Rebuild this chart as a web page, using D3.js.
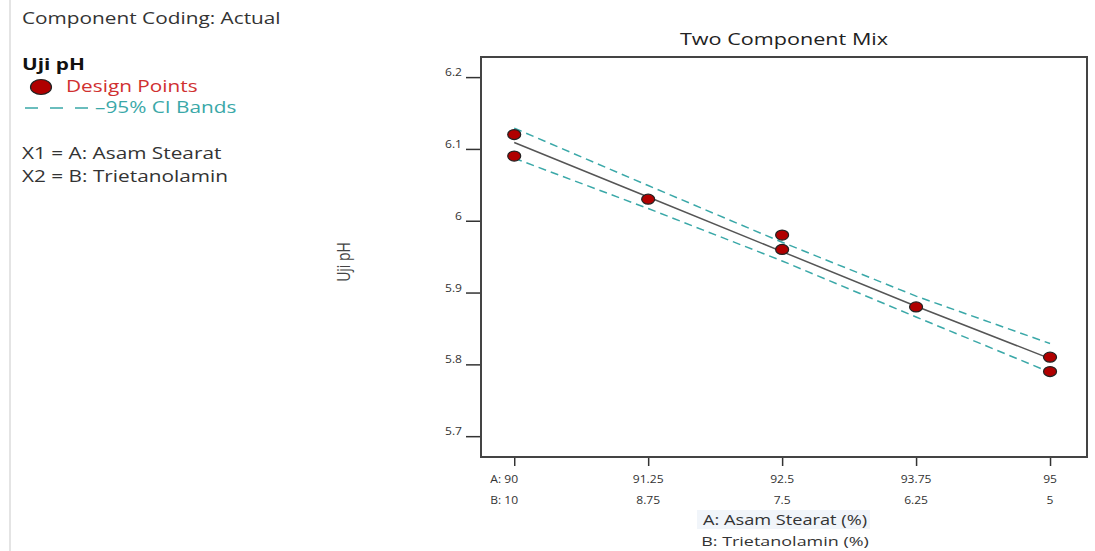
<!DOCTYPE html>
<html>
<head>
<meta charset="utf-8">
<script src="https://cdn.jsdelivr.net/npm/d3@7"></script>
<style>
  body { margin: 0; background: #fff; font-family: "Open Sans", "Noto Sans", sans-serif; }
  svg { display: block; }
</style>
</head>
<body>
<svg id="chart"></svg>
<script>
// design points (A: Asam Stearat %, Uji pH)
const pointA = [90, 90, 91.25, 92.5, 92.5, 93.75, 95, 95];
const pointPH = [6.12, 6.09, 6.03, 5.98, 5.96, 5.88, 5.81, 5.79];

// fitted line and 95% CI bands, read at the tick positions
const lineA = [90, 91.25, 92.5, 93.75, 95];
const fitPH = [6.109, 6.033, 5.957, 5.881, 5.808];
const upperPH = [6.129, 6.049, 5.970, 5.895, 5.829];
const lowerPH = [6.087, 6.017, 5.944, 5.866, 5.789];

const tickA = [90, 91.25, 92.5, 93.75, 95];
const tickB = [10, 8.75, 7.5, 6.25, 5];
const tickPH = [5.7, 5.8, 5.9, 6.0, 6.1, 6.2];

const W = 1095, H = 551;
const box = { left: 481, right: 1087, top: 57, bottom: 457 };
// the source picture is a bit wider than tall, so text is stretched sideways
const SX = 1.3, SXT = 1.15;

const svg = d3.select('#chart').attr('width', W).attr('height', H);

const x = d3.scaleLinear().domain([89.69, 95.345]).range([box.left, box.right]);
const y = d3.scaleLinear().domain([5.671, 6.228]).range([box.bottom, box.top]);

function label(g, px, py, txt, opts) {
    const o = Object.assign({ size: 16, fill: '#333', anchor: 'start', weight: 'normal', sx: SX }, opts);
    return g.append('text')
        .attr('transform', `translate(${px},${py}) scale(${o.sx},1)`)
        .attr('text-anchor', o.anchor)
        .attr('font-size', o.size)
        .attr('font-weight', o.weight)
        .attr('fill', o.fill)
        .text(txt);
}

// left info panel
svg.append('line')
    .attr('x1', 10).attr('x2', 10).attr('y1', 0).attr('y2', H)
    .attr('stroke', '#e4e4e4').attr('stroke-width', 2);

const info = svg.append('g');
label(info, 22, 24, 'Component Coding: Actual');
label(info, 22, 70, 'Uji pH', { fill: '#111', weight: 'bold' });
info.append('ellipse').attr('cx', 41).attr('cy', 87).attr('rx', 10.5).attr('ry', 7.5)
    .attr('fill', '#b00000').attr('stroke', '#222').attr('stroke-width', 1.2);
label(info, 66, 92, 'Design Points', { fill: '#d03030' });
info.append('line').attr('x1', 25).attr('x2', 88).attr('y1', 108).attr('y2', 108)
    .attr('stroke', '#3aa8a8').attr('stroke-width', 1.5).attr('stroke-dasharray', '13,12');
label(info, 95, 113, '\u201395% CI Bands', { fill: '#3aa8a8' });
label(info, 22, 159, 'X1 = A: Asam Stearat');
label(info, 22, 182, 'X2 = B: Trietanolamin');

// title
label(svg, (box.left + box.right) / 2, 45, 'Two Component Mix', { anchor: 'middle', fill: '#222', sx: 1.35 });

// y axis
const yAxis = svg.append('g')
    .attr('transform', `translate(${box.left},0)`)
    .call(d3.axisLeft(y).tickValues(tickPH).tickSize(15).tickFormat(() => ''));
yAxis.select('.domain').remove();
yAxis.selectAll('.tick line').attr('stroke', '#333').attr('stroke-width', 1.5);
const yLabels = svg.append('g');
tickPH.forEach(v => {
    label(yLabels, box.left - 19, y(v) - 1, v === 6 ? '6' : d3.format('.1f')(v),
        { size: 10.5, anchor: 'end', sx: SXT });
});

svg.append('text')
    .attr('transform', `translate(350,262) scale(${SX},1) rotate(-90)`)
    .attr('text-anchor', 'middle').attr('font-size', 14).attr('fill', '#444')
    .text('Uji pH');

// x axis, two rows of labels
const xAxis = svg.append('g')
    .attr('transform', `translate(0,${box.bottom})`)
    .call(d3.axisBottom(x).tickValues(tickA).tickSize(9).tickFormat(() => ''));
xAxis.select('.domain').remove();
xAxis.selectAll('.tick line').attr('stroke', '#333').attr('stroke-width', 1.5);

const xLabels = svg.append('g');
tickA.forEach((v, i) => {
    label(xLabels, x(v) + (i === 0 ? -10 : 0), 483, i === 0 ? 'A:  ' + v : String(v),
        { size: 10.5, anchor: 'middle', sx: SXT });
});
tickB.forEach((v, i) => {
    label(xLabels, x(tickA[i]) + (i === 0 ? -10 : 0), 504, i === 0 ? 'B:  ' + v : String(v),
        { size: 10.5, anchor: 'middle', sx: SXT });
});

svg.append('rect')
    .attr('x', 697).attr('y', 510).attr('width', 173).attr('height', 19)
    .attr('fill', '#f1f5fa');
label(svg, 785, 525, 'A: Asam Stearat (%)', { size: 14, anchor: 'middle', sx: 1.3 });
label(svg, 785, 546, 'B: Trietanolamin (%)', { size: 13.5, anchor: 'middle', sx: 1.33 });

// plot frame
svg.append('rect')
    .attr('x', box.left).attr('y', box.top)
    .attr('width', box.right - box.left).attr('height', box.bottom - box.top)
    .attr('fill', 'none').attr('stroke', '#444').attr('stroke-width', 2);

const line = d3.line().x(d => x(d[0])).y(d => y(d[1]));

[upperPH, lowerPH].forEach(band => {
    svg.append('path')
        .datum(lineA.map((a, i) => [a, band[i]]))
        .attr('d', line)
        .attr('fill', 'none').attr('stroke', '#3aa8a8')
        .attr('stroke-width', 1.5).attr('stroke-dasharray', '8,5');
});

svg.append('path')
    .datum(lineA.map((a, i) => [a, fitPH[i]]))
    .attr('d', line)
    .attr('fill', 'none').attr('stroke', '#555').attr('stroke-width', 1.5);

svg.append('g').selectAll('ellipse')
    .data(pointA.map((a, i) => [a, pointPH[i]]))
    .join('ellipse')
    .attr('cx', d => x(d[0]))
    .attr('cy', d => y(d[1]))
    .attr('rx', 6.5).attr('ry', 5)
    .attr('fill', '#b00000').attr('stroke', '#222').attr('stroke-width', 1.2);
</script>
</body>
</html>
